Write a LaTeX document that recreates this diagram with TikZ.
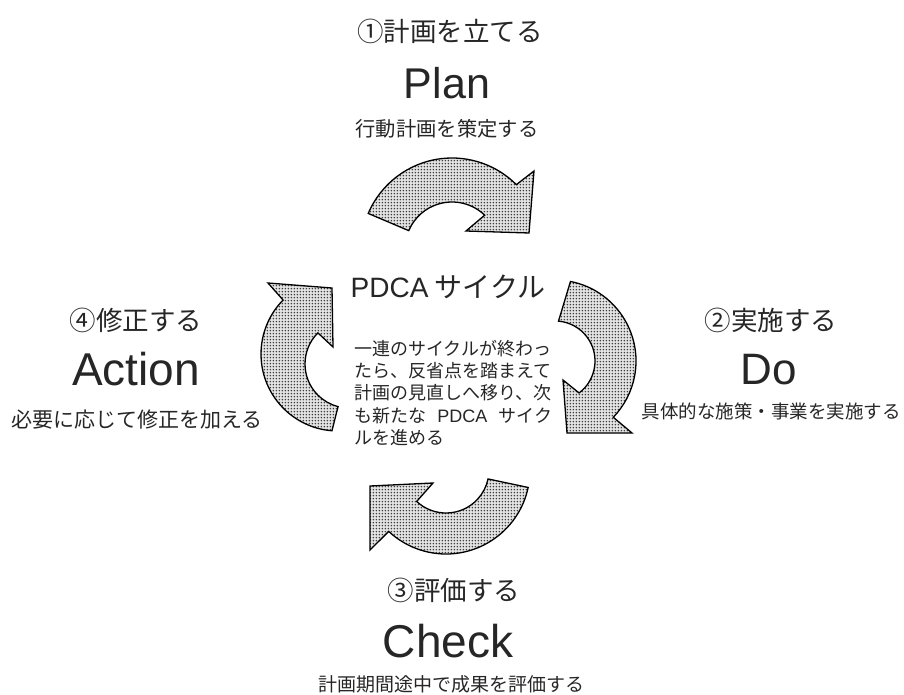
\documentclass[tikz,border=0pt]{standalone}
\usepackage{fontspec}
\setmainfont{Noto Sans CJK JP}
\newfontfamily\latinfont{Liberation Sans}
\usetikzlibrary{patterns,calc}

% fine dot screen used inside the cycle arrows
\pgfdeclarepatternformonly{stipple}{\pgfpoint{0pt}{0pt}}{\pgfpoint{3.3pt}{3.3pt}}{\pgfpoint{3.3pt}{3.3pt}}{%
  \pgfpathcircle{\pgfpoint{1.65pt}{1.65pt}}{0.95pt}\pgfusepath{fill}}

\newcommand{\fsz}[1]{\fontsize{#1}{#1}\selectfont}

\begin{document}
\begin{tikzpicture}[x=1pt,y=1pt,
  cyclearrow/.style={draw=black, line width=1.3pt, line join=miter,
    preaction={fill=gray!22}, pattern=stipple, pattern color=black!75},
  stagetitle/.style={inner sep=0pt, font=\fsz{26.5}, text=black!85},
  stageword/.style={inner sep=0pt, anchor=base, text=black!85},
  stagenote/.style={inner sep=0pt, text=black!85},
  bodyline/.style={inner sep=0pt, anchor=west, font=\fsz{18}, text=black!85}]
\useasboundingbox (0,0) rectangle (904,-695);

% ---- the four curved arrows of the cycle ----
% Plan (top)
\draw[cyclearrow] ($(452,-249)+(157:91pt)$) arc[start angle=157,end angle=45,radius=91pt]
  -- (534,-171) -- (529,-233) -- (466,-231)
  -- ($(452,-249)+(46:47pt)$) arc[start angle=46,end angle=157,radius=47pt] -- cycle;
% Do (right)
\draw[cyclearrow] ($(555,-361)+(79:81pt)$) arc[start angle=79,end angle=-44,radius=81pt]
  -- (632,-433) -- (567,-433) -- (563,-380)
  -- ($(555,-361)+(-53:40pt)$) arc[start angle=-53,end angle=85,radius=40pt] -- cycle;
% Check (bottom)
\draw[cyclearrow] ($(446,-470)+(-12:84pt)$) arc[start angle=-12,end angle=-133,radius=84pt]
  -- (370,-550) -- (370,-486) -- (433,-483)
  -- ($(446,-470)+(-133:43pt)$) arc[start angle=-133,end angle=-12,radius=43pt] -- cycle;
% Action (left)
\draw[cyclearrow] ($(338,-354)+(265.5:77pt)$) arc[start angle=265.5,end angle=135.5,radius=77pt]
  -- (268,-283) -- (332,-288) -- (333,-347)
  -- ($(349,-364)+(135:44pt)$) arc[start angle=135,end angle=255.6,radius=44pt] -- cycle;

% ---- Plan ----
\node[stagetitle] (plantitle) at (450,-31) {①計画を立てる};
\node[stageword, font=\latinfont\fsz{43}] (planword) at (447,-99) {Plan};
\node[stagenote, font=\fsz{20.3}] (plannote) at (447,-129) {行動計画を策定する};

% ---- Do ----
\node[stagetitle] (dotitle) at (771,-320) {②実施する};
\node[stageword, font=\latinfont\fsz{44}] (doword) at (769,-384) {Do};
\node[stagenote, font=\fsz{18.5}] (donote) at (771,-411) {具体的な施策・事業を実施する};

% ---- Check ----
\node[stagetitle] (chktitle) at (454,-590) {③評価する};
\node[stageword, font=\latinfont\fsz{46}] (chkword) at (448,-657) {Check};
\node[stagenote, font=\fsz{19}] (chknote) at (451,-684) {計画期間途中で成果を評価する};

% ---- Action ----
\node[stagetitle] (acttitle) at (136,-320) {④修正する};
\node[stageword, font=\latinfont\fsz{46}] (actword) at (136,-385) {Action};
\node[stagenote, font=\fsz{21}] (actnote) at (137,-420) {必要に応じて修正を加える};

% ---- centre ----
\node[inner sep=0pt, font=\fsz{28}, text=black!85] (cyclename) at (448,-287) {{\latinfont PDCA} サイクル};
\node[bodyline] (body1) at (354,-349) {一連のサイクルが終わっ};
\node[bodyline] (body2) at (354,-371) {たら、反省点を踏まえて};
\node[bodyline] (body3) at (354,-393) {計画の見直しへ移り、次};
\node[bodyline] (body4) at (354,-416) {\makebox[198pt][s]{も新たな\hfill{\latinfont PDCA}\hfill サイク}};
\node[bodyline] (body5) at (354,-438) {ルを進める};
\end{tikzpicture}
\end{document}
